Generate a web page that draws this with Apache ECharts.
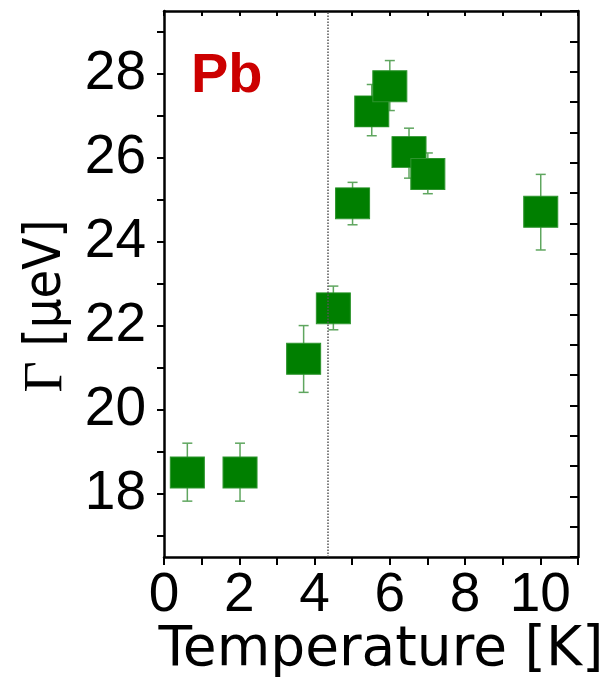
<!DOCTYPE html>
<html>
<head>
<meta charset="utf-8">
<script src="https://cdn.jsdelivr.net/npm/echarts@6/dist/echarts.min.js"></script>
<style>
  html, body { margin: 0; padding: 0; background: #fff; }
  #chart { width: 612px; height: 678px; }
</style>
</head>
<body>
<div id="chart"></div>
<script>
// measured points: temperature [K] and linewidth Γ [μeV]
const temps = [0.62, 2.02, 3.71, 4.5, 5.01, 5.52, 6.0, 6.51, 7.01, 10.01];
const gammas = [18.51, 18.51, 21.22, 22.42, 24.92, 27.11, 27.71, 26.14, 25.62, 24.72];
const gammaLow = [17.83, 17.83, 20.42, 21.91, 24.41, 26.53, 27.13, 25.52, 25.15, 23.81];
const gammaHigh = [19.21, 19.21, 22.01, 22.95, 25.42, 27.75, 28.32, 26.71, 26.12, 25.61];
const tc = 4.35;
const yTicks = [17, 18, 19, 20, 21, 22, 23, 24, 25, 26, 27, 28, 29];
const yLabels = [18, 20, 22, 24, 26, 28];

const chart = echarts.init(document.getElementById('chart'));

const points = temps.map((t, i) => [t, gammas[i]]);
const bars = temps.map((t, i) => [t, gammaLow[i], gammaHigh[i]]);

const labelFont = { color: '#000', fontSize: 55, fontFamily: "'Liberation Sans', Arial, sans-serif" };
const frameLine = { onZero: false, lineStyle: { color: '#000', width: 2.5 } };

chart.setOption({
  animation: false,
  grid: { left: 164, right: 34, top: 11, bottom: 121, outerBoundsMode: 'none' },
  xAxis: [
    {
      type: 'value', min: 0, max: 11, interval: 1,
      name: 'Temperature [K]', nameLocation: 'middle', nameGap: 66, nameMoveOverlap: false,
      nameTextStyle: {
        color: '#000', fontSize: 55, padding: [0, 0, 0, 20],
        fontFamily: "'DejaVu Sans', sans-serif"
      },
      axisLine: frameLine,
      axisTick: { length: 8, lineStyle: { color: '#000', width: 2 } },
      axisLabel: Object.assign({
        margin: 11,
        formatter: v => (v % 2 === 0 ? String(v) : '')
      }, labelFont),
      splitLine: { show: false }
    },
    {
      type: 'value', position: 'top', min: 0, max: 11, interval: 1,
      axisLine: frameLine,
      axisTick: { inside: true, length: 5, lineStyle: { color: '#000', width: 2 } },
      axisLabel: { show: false },
      splitLine: { show: false }
    }
  ],
  yAxis: [
    {
      type: 'value', min: 16.5, max: 29.5,
      name: '{g|Γ} [μeV]', nameLocation: 'middle', nameRotate: 90, nameGap: 68,
      nameTextStyle: {
        color: '#000', fontSize: 52, padding: [0, 44, 0, 0],
        fontFamily: "'DejaVu Sans Condensed', 'Liberation Sans', sans-serif",
        rich: { g: { fontSize: 54, fontFamily: "'Liberation Serif', serif", color: '#000' } }
      },
      axisLine: frameLine,
      axisTick: { length: 7, customValues: yTicks, lineStyle: { color: '#000', width: 2 } },
      axisLabel: Object.assign({ margin: 18, customValues: yLabels }, labelFont),
      splitLine: { show: false }
    },
    {
      type: 'value', position: 'right', min: 0, max: 18, interval: 1,
      axisLine: frameLine,
      axisTick: { inside: true, length: 8, lineStyle: { color: '#000', width: 2 } },
      axisLabel: { show: false },
      splitLine: { show: false }
    }
  ],
  graphic: [
    {
      type: 'text', left: 191, top: 49,
      style: { text: 'Pb', fill: '#cc0000', font: "bold 56px 'Liberation Sans', Arial, sans-serif" }
    }
  ],
  series: [
    {
      type: 'custom',
      data: bars,
      z: 2,
      renderItem: function (params, api) {
        const x = api.value(0);
        const lo = api.coord([x, api.value(1)]);
        const hi = api.coord([x, api.value(2)]);
        const cap = 5;
        const style = { stroke: '#5fa65f', lineWidth: 1.5 };
        return {
          type: 'group',
          children: [
            { type: 'line', shape: { x1: lo[0], y1: lo[1], x2: hi[0], y2: hi[1] }, style: style },
            { type: 'line', shape: { x1: lo[0] - cap, y1: lo[1], x2: lo[0] + cap, y2: lo[1] }, style: style },
            { type: 'line', shape: { x1: hi[0] - cap, y1: hi[1], x2: hi[0] + cap, y2: hi[1] }, style: style }
          ]
        };
      }
    },
    {
      type: 'scatter',
      data: points,
      z: 3,
      symbol: 'rect',
      symbolSize: [34, 31],
      itemStyle: { color: '#007f00', borderColor: '#2e952e', borderWidth: 1, opacity: 1 },
      markLine: {
        silent: true,
        symbol: 'none',
        label: { show: false },
        lineStyle: { color: '#555', type: 'dotted', width: 1.5 },
        data: [{ xAxis: tc }]
      }
    }
  ]
});
</script>
</body>
</html>
